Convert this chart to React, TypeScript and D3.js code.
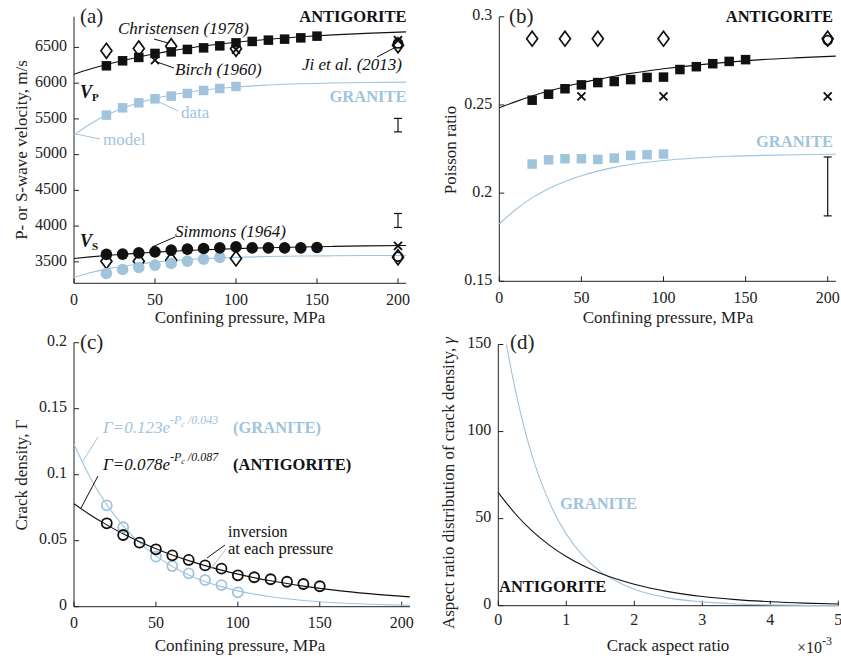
import React from 'react';
import * as d3 from 'd3';

const FONT = "'Liberation Serif', 'Times New Roman', serif";
const BLUE = '#9fc4dc';

// ---------- Panel (a): P- and S-wave velocity ----------
const P_ANT = [20, 30, 40, 50, 60, 70, 80, 90, 100, 110, 120, 130, 140, 150];
const VP_ANT = [6243, 6313, 6360, 6416, 6438, 6472, 6494, 6522, 6564, 6584, 6602, 6616, 6634, 6658];
const VS_ANT = [3604, 3608, 3626, 3640, 3664, 3678, 3687, 3696, 3710, 3696, 3696, 3696, 3696, 3701];
const P_GRA = [20, 30, 40, 50, 60, 70, 80, 90, 100];
const VP_GRA = [5553, 5655, 5725, 5781, 5819, 5856, 5898, 5926, 5954];
const P_GRA_VS = [20, 30, 40, 50, 60, 70, 80, 90];
const VS_GRA = [3338, 3394, 3422, 3454, 3478, 3510, 3538, 3562];

const P_MODEL = [0, 10, 20, 30, 40, 50, 60, 70, 80, 90, 100, 120, 140, 160, 180, 205];
const VP_ANT_MODEL = [6126, 6197, 6260, 6317, 6367, 6412, 6452, 6488, 6519, 6548, 6573, 6615, 6649, 6676, 6697, 6718];
const VP_GRA_MODEL = [5273, 5428, 5551, 5648, 5725, 5786, 5835, 5873, 5904, 5928, 5947, 5974, 5991, 6002, 6009, 6014];
const VS_ANT_MODEL = [3548, 3570, 3589, 3606, 3622, 3635, 3648, 3659, 3668, 3677, 3685, 3698, 3708, 3716, 3723, 3729];
const VS_GRA_MODEL = [3282, 3347, 3398, 3438, 3470, 3496, 3516, 3532, 3545, 3555, 3563, 3574, 3581, 3585, 3588, 3590];

const P_CHRIS = [20, 40, 60, 100, 200];
const VP_CHRIS = [6452, 6486, 6518, 6482, 6530];
const VS_CHRIS = [3510, 3510, 3524, 3548, 3565];
const P_BIRCH_VP = [50, 100, 200];
const VP_BIRCH = [6322, 6470, 6600];
const P_BIRCH_VS = [200];
const VS_BIRCH = [3724];
const P_JI = [200];
const VP_JI = [6556];
const VS_JI = [3572];
const ERR_VP = [5319, 5507];
const ERR_VS = [3981, 4177];

// ---------- Panel (b): Poisson ratio ----------
const NU_ANT = [0.2527, 0.2561, 0.2592, 0.2614, 0.2627, 0.2633, 0.2644, 0.2656, 0.2658, 0.2701, 0.2717, 0.2734, 0.2747, 0.2757];
const NU_GRA = [0.2165, 0.2189, 0.2195, 0.2195, 0.2191, 0.2199, 0.2214, 0.2218, 0.2222];
const NU_ANT_MODEL = [0.2484, 0.2519, 0.2551, 0.2579, 0.2603, 0.2626, 0.2645, 0.2663, 0.2679, 0.2693, 0.2705, 0.2726, 0.2743, 0.2757, 0.2767, 0.2777];
const NU_GRA_MODEL = [0.1825, 0.1907, 0.1973, 0.2025, 0.2066, 0.2099, 0.2125, 0.2146, 0.2162, 0.2175, 0.2185, 0.2199, 0.2209, 0.2214, 0.2218, 0.2221];
const NU_CHRIS = [0.2876, 0.2876, 0.2876, 0.2876, 0.2876];
const NU_BIRCH = [0.2549, 0.2549, 0.2549];
const NU_JI = [0.2868];
const ERR_NU = [0.1871, 0.2205];

// ---------- Panel (c): crack density ----------
const GAM_ANT = [0.0632, 0.0543, 0.0485, 0.0435, 0.0389, 0.0354, 0.0313, 0.0288, 0.0238, 0.0223, 0.0208, 0.0189, 0.0172, 0.0155];
const GAM_GRA = [0.0768, 0.0602, 0.0485, 0.0379, 0.0308, 0.0253, 0.0202, 0.0164, 0.0109];
const GAM_GRA_MODEL = [0.123, 0.0975, 0.0773, 0.0612, 0.0485, 0.0385, 0.0305, 0.0241, 0.0191, 0.0152, 0.012, 0.0075, 0.0047, 0.003, 0.0019, 0.001];
const GAM_ANT_MODEL = [0.078, 0.0695, 0.062, 0.0552, 0.0492, 0.0439, 0.0391, 0.0349, 0.0311, 0.0277, 0.0247, 0.0196, 0.0156, 0.0124, 0.0099, 0.0074];

// ---------- Panel (d): aspect ratio distribution (x in 1e-3) ----------
const ALPHA_ANT = [0, 0.25, 0.5, 0.75, 1, 1.25, 1.5, 2, 2.5, 3, 3.5, 4, 4.5, 5];
const DIST_ANT = [65, 52.8, 42.8, 34.8, 28.2, 22.9, 18.6, 12.3, 8.1, 5.3, 3.5, 2.3, 1.5, 1.0];
const ALPHA_GRA = [0.12, 0.2, 0.3, 0.4, 0.5, 0.6, 0.8, 1, 1.25, 1.5, 1.75, 2, 2.5, 3, 3.5, 4, 4.5, 5];
const DIST_GRA = [150, 133.4, 115.2, 99.4, 85.8, 74.1, 55.2, 41.1, 28.5, 19.7, 13.7, 9.5, 4.5, 2.2, 1.0, 0.5, 0.2, 0.1];

// ---------- ticks ----------
const X_TICKS_P = [0, 50, 100, 150, 200];
const Y_TICKS_A = [3500, 4000, 4500, 5000, 5500, 6000, 6500];
const Y_TICKS_B = [0.15, 0.2, 0.25, 0.3];
const Y_LABELS_B = ['0.15', '0.2', '0.25', '0.3'];
const Y_TICKS_C = [0, 0.05, 0.1, 0.15, 0.2];
const Y_LABELS_C = ['0', '0.05', '0.1', '0.15', '0.2'];
const X_TICKS_D = [0, 1, 2, 3, 4, 5];
const Y_TICKS_D = [0, 50, 100, 150];

type S = d3.ScaleLinear<number, number>;

const zip = (a: number[], b: number[]) => a.map((v, i) => [v, b[i]] as [number, number]);

function curvePath(xs: S, ys: S, xv: number[], yv: number[]) {
  return d3.line<[number, number]>().x(d => xs(d[0])).y(d => ys(d[1])).curve(d3.curveMonotoneX)(zip(xv, yv)) || '';
}

function Axes({ xs, ys, xt, xl, yt, yl, xLabelDy = 18 }: { xs: S; ys: S; xt: number[]; xl?: string[]; yt: number[]; yl?: string[]; xLabelDy?: number }) {
  const [x0, x1] = xs.range();
  const [y0, y1] = ys.range();
  return (
    <g fontFamily={FONT} fontSize={16} fill="#222">
      <line x1={x0} x2={x0} y1={y0} y2={y1} stroke="#222" strokeWidth={1} />
      <line x1={x0} x2={x1} y1={y0} y2={y0} stroke="#222" strokeWidth={1} />
      {xt.map((t, i) => (
        <g key={'x' + i}>
          <line x1={xs(t)} x2={xs(t)} y1={y0} y2={y0 - 5} stroke="#222" />
          <text x={xs(t)} y={y0 + xLabelDy} textAnchor="middle" dominantBaseline="middle">{xl ? xl[i] : String(t)}</text>
        </g>
      ))}
      {yt.map((t, i) => (
        <g key={'y' + i}>
          <line x1={x0} x2={x0 + 5} y1={ys(t)} y2={ys(t)} stroke="#222" />
          <text x={x0 - 7} y={ys(t)} textAnchor="end" dominantBaseline="middle">{yl ? yl[i] : String(t)}</text>
        </g>
      ))}
    </g>
  );
}

function Squares({ xs, ys, xv, yv, color, size = 9.5 }: { xs: S; ys: S; xv: number[]; yv: number[]; color: string; size?: number }) {
  return <g>{xv.map((v, i) => <rect key={i} x={xs(v) - size / 2} y={ys(yv[i]) - size / 2} width={size} height={size} fill={color} />)}</g>;
}
function Dots({ xs, ys, xv, yv, color, r = 5.8 }: { xs: S; ys: S; xv: number[]; yv: number[]; color: string; r?: number }) {
  return <g>{xv.map((v, i) => <circle key={i} cx={xs(v)} cy={ys(yv[i])} r={r} fill={color} />)}</g>;
}
function Rings({ xs, ys, xv, yv, color, r = 4.5, sw = 1.8 }: { xs: S; ys: S; xv: number[]; yv: number[]; color: string; r?: number; sw?: number }) {
  return <g>{xv.map((v, i) => <circle key={i} cx={xs(v)} cy={ys(yv[i])} r={r} fill="none" stroke={color} strokeWidth={sw} />)}</g>;
}
function Diamonds({ xs, ys, xv, yv }: { xs: S; ys: S; xv: number[]; yv: number[] }) {
  return <g>{xv.map((v, i) => {
    const cx = xs(v), cy = ys(yv[i]);
    return <path key={i} d={`M${cx},${cy - 7.5}L${cx + 5.5},${cy}L${cx},${cy + 7.5}L${cx - 5.5},${cy}Z`} fill="none" stroke="#111" strokeWidth={1.7} />;
  })}</g>;
}
function Crosses({ xs, ys, xv, yv }: { xs: S; ys: S; xv: number[]; yv: number[] }) {
  return <g>{xv.map((v, i) => {
    const cx = xs(v), cy = ys(yv[i]), h = 4;
    return <path key={i} d={`M${cx - h},${cy - h}L${cx + h},${cy + h}M${cx - h},${cy + h}L${cx + h},${cy - h}`} stroke="#111" strokeWidth={1.9} />;
  })}</g>;
}
function ErrBar({ x, y1, y2 }: { x: number; y1: number; y2: number }) {
  return (
    <g stroke="#111" strokeWidth={1.2}>
      <line x1={x} x2={x} y1={y1} y2={y2} />
      <line x1={x - 4} x2={x + 4} y1={y1} y2={y1} />
      <line x1={x - 4} x2={x + 4} y1={y2} y2={y2} />
    </g>
  );
}

export default function App() {
  const xA = d3.scaleLinear([0, 205], [74, 406.1]);
  const yA = d3.scaleLinear([3200, 6930], [283.3, 16.7]);
  const xB = d3.scaleLinear([0, 205], [499.3, 835.9]);
  const yB = d3.scaleLinear([0.15, 0.3], [281.3, 16.8]);
  const xC = d3.scaleLinear([0, 205], [74, 409.9]);
  const yC = d3.scaleLinear([0, 0.2], [606.7, 342.7]);
  const xD = d3.scaleLinear([0, 5], [498.3, 838.3]);
  const yD = d3.scaleLinear([0, 150], [605.7, 344.5]);

  const lw = 1.1;
  const LF = 17;
  const BF = 16.5;

  return (
    <svg width={841} height={658} style={{ position: 'absolute', left: 0, top: 0, background: '#fff' }} fontFamily={FONT}>
      <rect width={841} height={658} fill="#fff" />

      {/* ================= (a) ================= */}
      <Axes xs={xA} ys={yA} xt={X_TICKS_P} yt={Y_TICKS_A} />
      <path d={curvePath(xA, yA, P_MODEL, VP_ANT_MODEL)} fill="none" stroke="#111" strokeWidth={lw} />
      <path d={curvePath(xA, yA, P_MODEL, VP_GRA_MODEL)} fill="none" stroke={BLUE} strokeWidth={lw} />
      <path d={curvePath(xA, yA, P_MODEL, VS_ANT_MODEL)} fill="none" stroke="#111" strokeWidth={lw} />
      <path d={curvePath(xA, yA, P_MODEL, VS_GRA_MODEL)} fill="none" stroke={BLUE} strokeWidth={lw} />
      <Diamonds xs={xA} ys={yA} xv={P_CHRIS} yv={VP_CHRIS} />
      <Diamonds xs={xA} ys={yA} xv={P_CHRIS} yv={VS_CHRIS} />
      <Crosses xs={xA} ys={yA} xv={P_BIRCH_VP} yv={VP_BIRCH} />
      <Crosses xs={xA} ys={yA} xv={P_BIRCH_VS} yv={VS_BIRCH} />
      <Rings xs={xA} ys={yA} xv={P_JI} yv={VP_JI} color="#111" />
      <Rings xs={xA} ys={yA} xv={P_JI} yv={VS_JI} color="#111" />
      <Squares xs={xA} ys={yA} xv={P_ANT} yv={VP_ANT} color="#111" />
      <Squares xs={xA} ys={yA} xv={P_GRA} yv={VP_GRA} color={BLUE} />
      <Dots xs={xA} ys={yA} xv={P_GRA_VS} yv={VS_GRA} color={BLUE} />
      <Dots xs={xA} ys={yA} xv={P_ANT} yv={VS_ANT} color="#111" />
      <ErrBar x={xA(200)} y1={yA(ERR_VP[0])} y2={yA(ERR_VP[1])} />
      <ErrBar x={xA(200)} y1={yA(ERR_VS[0])} y2={yA(ERR_VS[1])} />

      <text x={80} y={23} fontSize={21} fill="#222">(a)</text>
      <text x={406.5} y={21.5} fontSize={BF} fontWeight="bold" textAnchor="end" fill="#111">ANTIGORITE</text>
      <text x={406.5} y={102} fontSize={BF} fontWeight="bold" textAnchor="end" fill={BLUE}>GRANITE</text>
      <text x={118} y={34} fontSize={LF} fontStyle="italic" fill="#111">Christensen (1978)</text>
      <line x1={154} y1={39} x2={168} y2={43} stroke="#111" strokeWidth={1} />
      <text x={175} y={75} fontSize={LF} fontStyle="italic" fill="#111">Birch (1960)</text>
      <line x1={157} y1={62} x2={174} y2={68} stroke="#111" strokeWidth={1} />
      <text x={402} y={70} fontSize={LF} fontStyle="italic" textAnchor="end" fill="#111">Ji et al. (2013)</text>
      <line x1={377} y1={57} x2={394} y2={48} stroke="#111" strokeWidth={1} />
      <text x={80} y={98} fontSize={18} fontStyle="italic" fontWeight="bold" fill="#111">V<tspan fontSize={11} fontStyle="normal" dy={3}>P</tspan></text>
      <text x={80} y={247} fontSize={18} fontStyle="italic" fontWeight="bold" fill="#111">V<tspan fontSize={11} fontStyle="normal" dy={3}>S</tspan></text>
      <text x={181} y={118} fontSize={LF} fill={BLUE}>data</text>
      <line x1={157} y1={101} x2={178} y2={111} stroke={BLUE} strokeWidth={1} />
      <text x={103} y={145} fontSize={LF} fill={BLUE}>model</text>
      <line x1={76} y1={134} x2={100} y2={139} stroke={BLUE} strokeWidth={1} />
      <text x={175} y={237} fontSize={LF} fontStyle="italic" fill="#111">Simmons (1964)</text>
      <line x1={152} y1={247} x2={175} y2={237} stroke="#111" strokeWidth={1} />
      <text transform="translate(27,150) rotate(-90)" fontSize={LF} textAnchor="middle" fill="#222">P- or S-wave velocity, m/s</text>
      <text x={240} y={323} fontSize={LF} textAnchor="middle" fill="#222">Confining pressure, MPa</text>

      {/* ================= (b) ================= */}
      <Axes xs={xB} ys={yB} xt={X_TICKS_P} yt={Y_TICKS_B} yl={Y_LABELS_B} />
      <path d={curvePath(xB, yB, P_MODEL, NU_ANT_MODEL)} fill="none" stroke="#111" strokeWidth={lw} />
      <path d={curvePath(xB, yB, P_MODEL, NU_GRA_MODEL)} fill="none" stroke={BLUE} strokeWidth={lw} />
      <Diamonds xs={xB} ys={yB} xv={P_CHRIS} yv={NU_CHRIS} />
      <Crosses xs={xB} ys={yB} xv={P_BIRCH_VP} yv={NU_BIRCH} />
      <Rings xs={xB} ys={yB} xv={P_JI} yv={NU_JI} color="#111" />
      <Squares xs={xB} ys={yB} xv={P_ANT} yv={NU_ANT} color="#111" />
      <Squares xs={xB} ys={yB} xv={P_GRA} yv={NU_GRA} color={BLUE} />
      <ErrBar x={xB(200)} y1={yB(ERR_NU[0])} y2={yB(ERR_NU[1])} />
      <text x={509} y={23} fontSize={21} fill="#222">(b)</text>
      <text x={833} y={21.5} fontSize={BF} fontWeight="bold" textAnchor="end" fill="#111">ANTIGORITE</text>
      <text x={833} y={147} fontSize={BF} fontWeight="bold" textAnchor="end" fill={BLUE}>GRANITE</text>
      <text transform="translate(456,150) rotate(-90)" fontSize={LF} textAnchor="middle" fill="#222">Poisson ratio</text>
      <text x={668} y={323} fontSize={LF} textAnchor="middle" fill="#222">Confining pressure, MPa</text>

      {/* ================= (c) ================= */}
      <Axes xs={xC} ys={yC} xt={X_TICKS_P} yt={Y_TICKS_C} yl={Y_LABELS_C} />
      <path d={curvePath(xC, yC, P_MODEL, GAM_GRA_MODEL)} fill="none" stroke={BLUE} strokeWidth={lw} />
      <path d={curvePath(xC, yC, P_MODEL, GAM_ANT_MODEL)} fill="none" stroke="#111" strokeWidth={lw} />
      <Rings xs={xC} ys={yC} xv={P_GRA} yv={GAM_GRA} color={BLUE} r={5} sw={1.8} />
      <Rings xs={xC} ys={yC} xv={P_ANT} yv={GAM_ANT} color="#111" r={5} sw={1.8} />
      <text x={80} y={349} fontSize={21} fill="#222">(c)</text>
      <text x={103} y={433} fontSize={LF} fontStyle="italic" fill={BLUE}>
        Γ=0.123e<tspan fontSize={12} dy={-9}>-P</tspan><tspan fontSize={8} dy={3}>c</tspan><tspan fontSize={12} dy={-3}> /0.043</tspan>
      </text>
      <text x={233} y={433} fontSize={BF} fontWeight="bold" fill={BLUE}>(GRANITE)</text>
      <text x={103} y={470} fontSize={LF} fontStyle="italic" fill="#111">
        Γ=0.078e<tspan fontSize={12} dy={-9}>-P</tspan><tspan fontSize={8} dy={3}>c</tspan><tspan fontSize={12} dy={-3}> /0.087</tspan>
      </text>
      <text x={233} y={470} fontSize={BF} fontWeight="bold" fill="#111">(ANTIGORITE)</text>
      <line x1={83} y1={461} x2={98} y2={437} stroke={BLUE} strokeWidth={1} />
      <line x1={81} y1={508} x2={98} y2={476} stroke="#111" strokeWidth={1} />
      <text x={228} y={537} fontSize={16} fill="#111">inversion</text>
      <text x={228} y={554} fontSize={16.5} fill="#111">at each pressure</text>
      <line x1={207} y1={558} x2={225} y2={545} stroke="#111" strokeWidth={1} />
      <line x1={210} y1={570} x2={226} y2={549} stroke={BLUE} strokeWidth={1} />
      <text transform="translate(27,475) rotate(-90)" fontSize={LF} textAnchor="middle" fill="#222">Crack density, Γ</text>
      <text x={240} y={651} fontSize={LF} textAnchor="middle" fill="#222">Confining pressure, MPa</text>

      {/* ================= (d) ================= */}
      <Axes xs={xD} ys={yD} xt={X_TICKS_D} yt={Y_TICKS_D} xLabelDy={16} />
      <path d={curvePath(xD, yD, ALPHA_GRA, DIST_GRA)} fill="none" stroke={BLUE} strokeWidth={lw} />
      <path d={curvePath(xD, yD, ALPHA_ANT, DIST_ANT)} fill="none" stroke="#111" strokeWidth={lw} />
      <text x={510} y={349} fontSize={21} fill="#222">(d)</text>
      <text x={560} y={509} fontSize={BF} fontWeight="bold" fill={BLUE}>GRANITE</text>
      <text x={499} y={592} fontSize={BF} fontWeight="bold" fill="#111">ANTIGORITE</text>
      <text transform="translate(454,483) rotate(-90)" fontSize={LF} textAnchor="middle" fill="#222">Aspect ratio distribution of crack density, <tspan fontStyle="italic">γ</tspan></text>
      <text x={668} y={651} fontSize={LF} textAnchor="middle" fill="#222">Crack aspect ratio</text>
      <text x={797} y={653} fontSize={16} fill="#222">×10<tspan fontSize={12} dy={-8}>-3</tspan></text>
    </svg>
  );
}
